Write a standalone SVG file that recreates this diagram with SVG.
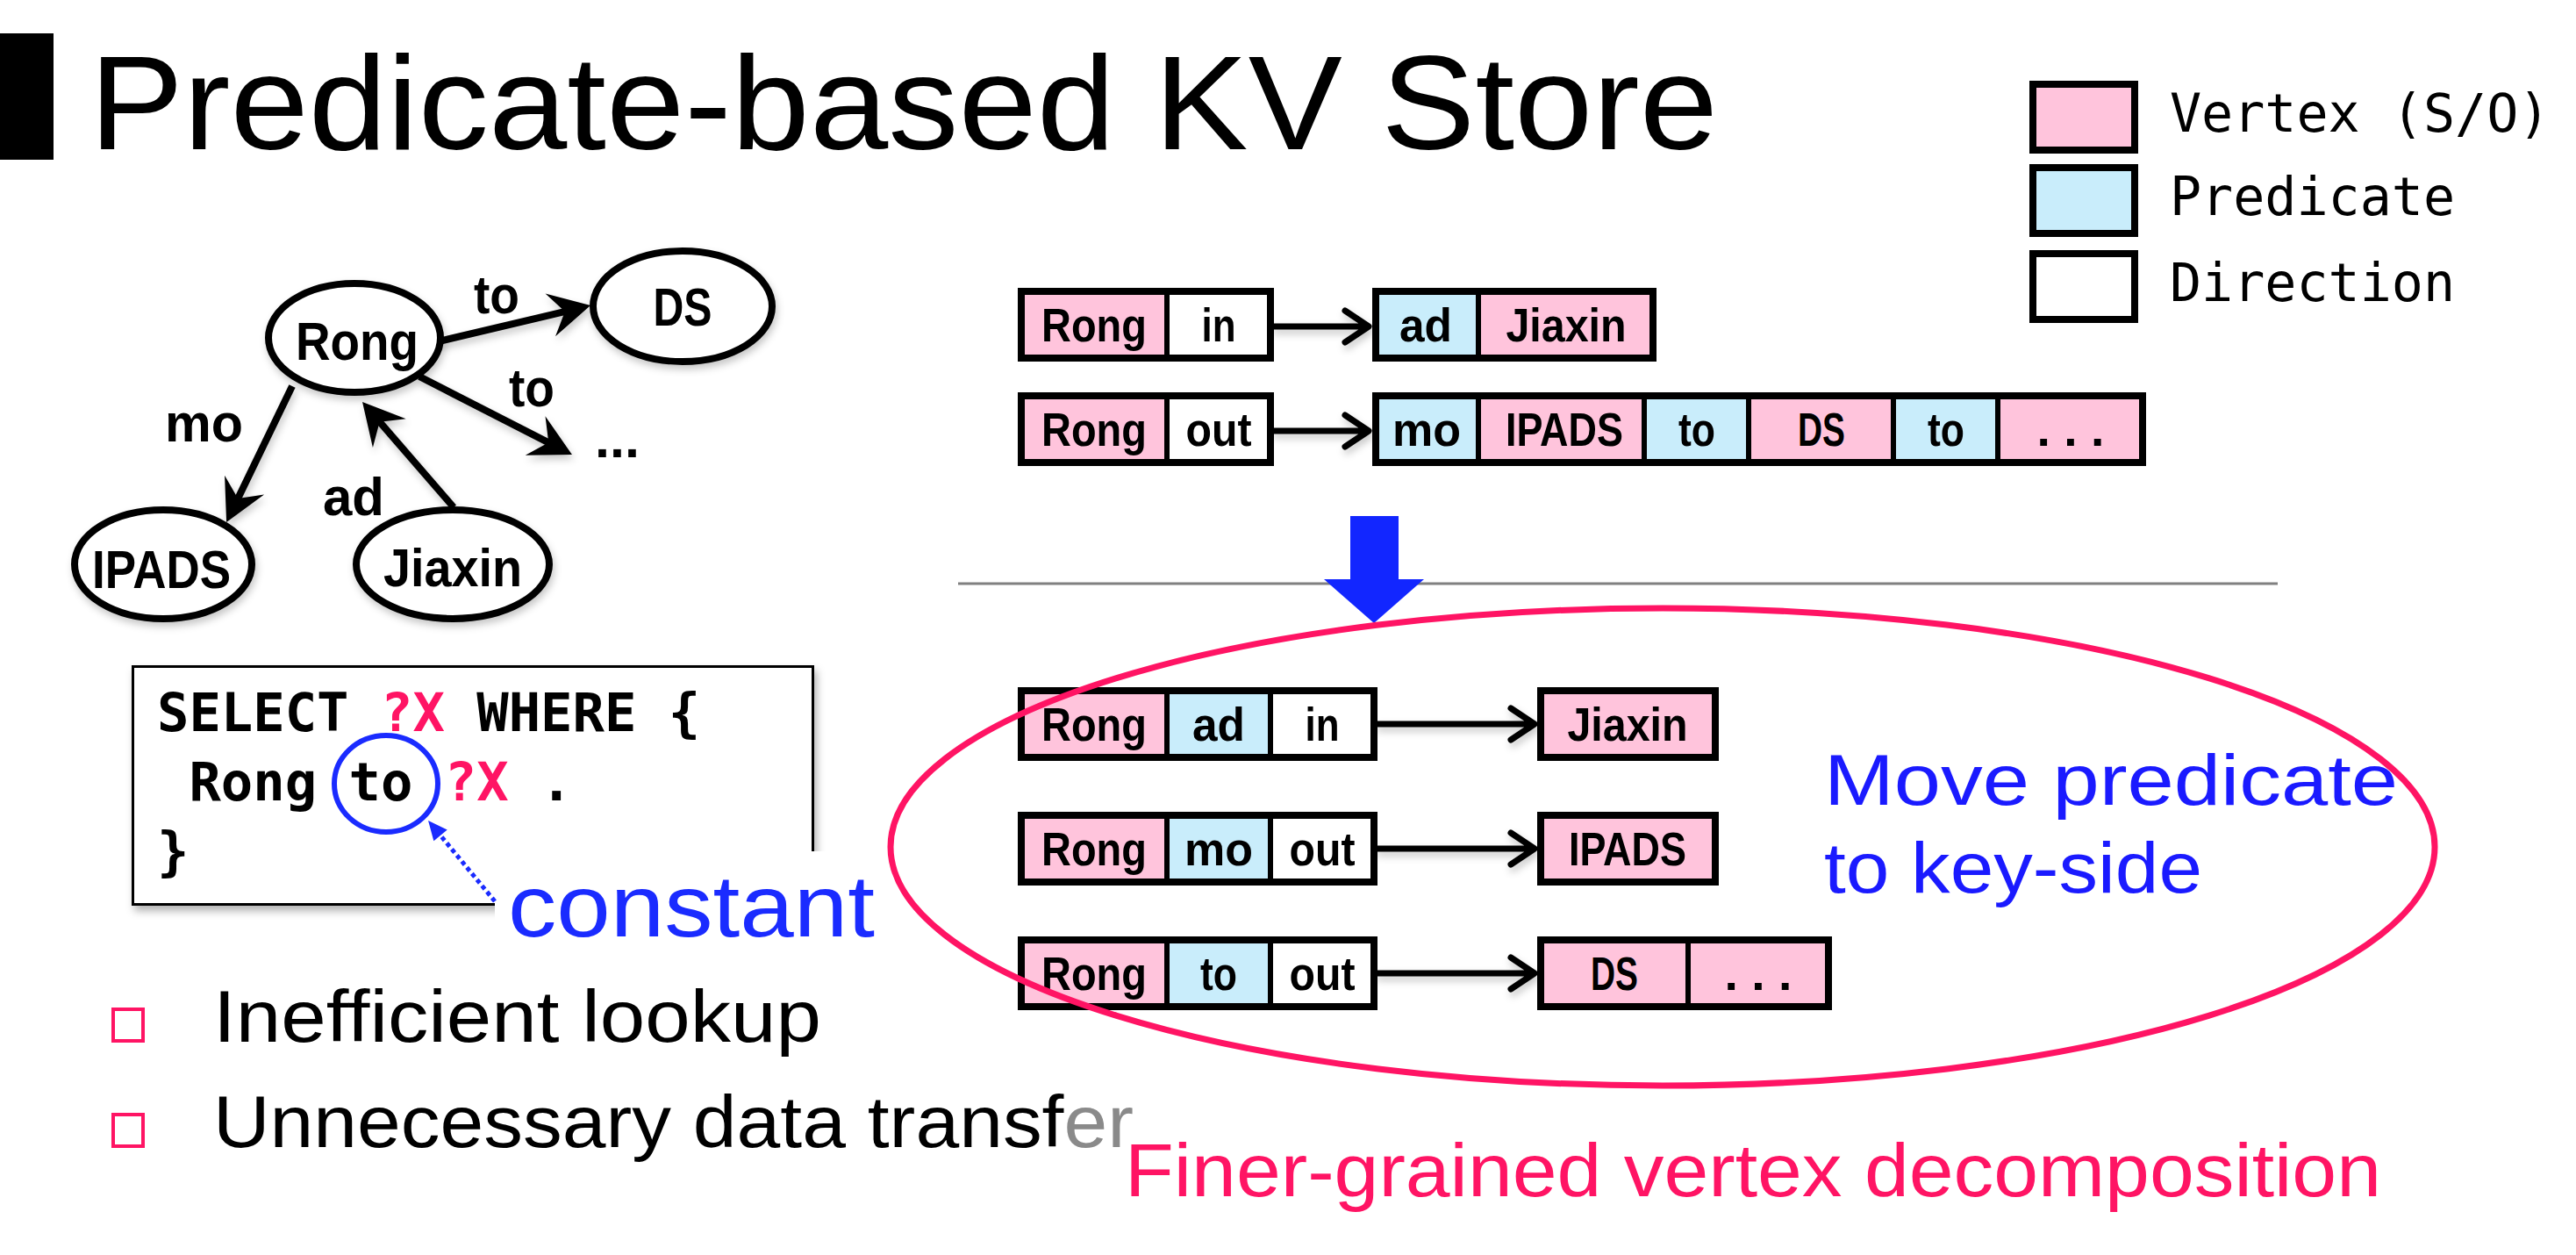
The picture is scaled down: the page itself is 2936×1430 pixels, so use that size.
<svg xmlns="http://www.w3.org/2000/svg" width="2936" height="1430" viewBox="0 0 2936 1430">
<defs>
<style>
.sans{font-family:"Liberation Sans",Arial,sans-serif}
.b{font-family:"Liberation Sans",Arial,sans-serif;font-weight:bold;font-size:53px;text-anchor:middle;fill:#000}
.g{font-family:"Liberation Sans",Arial,sans-serif;font-weight:bold;font-size:61px;fill:#000}
.gm{font-family:"Liberation Sans",Arial,sans-serif;font-weight:bold;font-size:61px;fill:#000;text-anchor:middle}
.mono{font-family:"DejaVu Sans Mono",monospace;font-size:60px;fill:#000}
.code{font-family:"DejaVu Sans Mono",monospace;font-weight:bold;font-size:60.5px;fill:#000}
.v{fill:#FFC4DC}.p{fill:#C9EDFB}.d{fill:#fff}
.box{fill:none;stroke:#000;stroke-width:8}
.div{stroke:#000;stroke-width:6}
.edge{stroke:#000;stroke-width:8;fill:none}
.kva{stroke:#000;stroke-width:7;fill:none;stroke-linecap:round;stroke-linejoin:round}
.node{fill:#fff;stroke:#000;stroke-width:8}
.pk{fill:#FF1464}
</style>
<marker id="ah" markerUnits="userSpaceOnUse" markerWidth="80" markerHeight="80" viewBox="-30 -40 80 80" refX="0" refY="0" orient="auto">
<path d="M25,0 L-22,-25 L-5,0 L-22,25 Z" fill="#000"/>
</marker>
<marker id="bh" markerUnits="userSpaceOnUse" markerWidth="40" markerHeight="40" viewBox="-10 -20 40 40" refX="0" refY="0" orient="auto">
<path d="M18,0 L-4,-10 L-4,10 Z" fill="#1a2bff"/>
</marker>
<filter id="sh" x="-10%" y="-10%" width="130%" height="140%">
<feDropShadow dx="3" dy="6" stdDeviation="5" flood-color="#000" flood-opacity="0.3"/>
</filter>
<filter id="sh2" x="-10%" y="-20%" width="130%" height="160%">
<feDropShadow dx="2" dy="5" stdDeviation="4" flood-color="#000" flood-opacity="0.22"/>
</filter>
</defs>
<rect width="2936" height="1430" fill="#fff"/>

<!-- Title -->
<g id="title">
<rect x="0" y="38" width="61" height="144" fill="#000"/>
<text class="sans" x="102" y="170" font-size="153" textLength="1856" lengthAdjust="spacingAndGlyphs" fill="#000">Predicate-based KV Store</text>
</g>

<!-- Legend -->
<g id="legend">
<rect x="2317" y="96" width="116" height="75" class="v" stroke="#000" stroke-width="8"/>
<rect x="2317" y="191" width="116" height="75" class="p" stroke="#000" stroke-width="8"/>
<rect x="2317" y="289" width="116" height="75" class="d" stroke="#000" stroke-width="8"/>
<text class="mono" x="2473" y="150">Vertex (S/O)</text>
<text class="mono" x="2473" y="245">Predicate</text>
<text class="mono" x="2473" y="343">Direction</text>
</g>

<!-- Graph connectors -->
<g id="graph-edges" filter="url(#sh2)">
<line class="edge" x1="333" y1="440" x2="269" y2="572.5" marker-end="url(#ah)"/>
<line class="edge" x1="517" y1="578" x2="429.4" y2="476.9" marker-end="url(#ah)"/>
<line class="edge" x1="500" y1="389" x2="648.7" y2="353.8" marker-end="url(#ah)"/>
<line class="edge" x1="478" y1="429" x2="629.7" y2="506.6" marker-end="url(#ah)"/>
</g>
<g id="graph-labels">
<text class="g" x="188" y="503" textLength="89" lengthAdjust="spacingAndGlyphs">mo</text>
<text class="g" x="368" y="587" textLength="70" lengthAdjust="spacingAndGlyphs">ad</text>
<text class="g" x="540" y="357" textLength="52" lengthAdjust="spacingAndGlyphs">to</text>
<text class="g" x="580" y="463" textLength="52" lengthAdjust="spacingAndGlyphs">to</text>
<text class="g" x="678" y="521" font-weight="normal">...</text>
</g>

<!-- Graph nodes -->
<g id="node-rong" filter="url(#sh2)">
<ellipse class="node" cx="404" cy="385" rx="98" ry="62"/>
<text class="gm" x="407" y="410" textLength="140" lengthAdjust="spacingAndGlyphs">Rong</text>
</g>
<g id="node-ds" filter="url(#sh2)">
<ellipse class="node" cx="778" cy="349" rx="102" ry="63"/>
<text class="gm" x="778" y="371" textLength="67" lengthAdjust="spacingAndGlyphs">DS</text>
</g>
<g id="node-ipads" filter="url(#sh2)">
<ellipse class="node" cx="186" cy="643" rx="101" ry="62"/>
<text class="gm" x="184" y="670" textLength="158" lengthAdjust="spacingAndGlyphs">IPADS</text>
</g>
<g id="node-jiaxin" filter="url(#sh2)">
<ellipse class="node" cx="516" cy="643" rx="110" ry="62"/>
<text class="gm" x="516" y="668" textLength="158" lengthAdjust="spacingAndGlyphs">Jiaxin</text>
</g>

<!-- SPARQL query -->
<g id="query">
<rect x="151.5" y="759.5" width="775" height="271" fill="#fff" stroke="#000" stroke-width="3" filter="url(#sh)"/>
<text class="code" x="179" y="833" xml:space="preserve">SELECT <tspan class="pk">?X</tspan> WHERE {</text>
<text class="code" x="179" y="912" xml:space="preserve"> Rong to <tspan class="pk">?X</tspan> .</text>
<text class="code" x="179" y="991">}</text>
<rect x="564" y="970" width="442" height="118" fill="#fff"/>
<text class="sans" x="579" y="1067" font-size="100" textLength="418" lengthAdjust="spacingAndGlyphs" fill="#1a2bff">constant</text>
<ellipse cx="440" cy="893" rx="59" ry="55" fill="none" stroke="#1a2bff" stroke-width="6"/>
<line x1="564" y1="1027" x2="499.5" y2="948.9" stroke="#1a2bff" stroke-width="5" stroke-dasharray="5 4" marker-end="url(#bh)"/>
</g>

<!-- Bullets -->
<g id="bullets">
<rect x="129" y="1150" width="34" height="36" fill="none" stroke="#FF1464" stroke-width="4"/>
<rect x="129" y="1270" width="34" height="36" fill="none" stroke="#FF1464" stroke-width="4"/>
<text class="sans" x="243" y="1187" font-size="84" textLength="693" lengthAdjust="spacingAndGlyphs" fill="#000">Inefficient lookup</text>
<text class="sans" x="243" y="1307" font-size="84" textLength="1049" lengthAdjust="spacingAndGlyphs" fill="#000">Unnecessary data transf<tspan fill="#8a8a8a">er</tspan></text>
</g>

<!-- Top KV: Rong in -->
<g id="kv-top-1">
<rect x="1164" y="332" width="166" height="76" class="v"/>
<rect x="1330" y="332" width="118" height="76" class="d"/>
<rect x="1164" y="332" width="284" height="76" class="box"/>
<line class="div" x1="1330" y1="331" x2="1330" y2="409"/>
<text class="b" x="1247" y="389" textLength="120" lengthAdjust="spacingAndGlyphs">Rong</text>
<text class="b" x="1389" y="389" textLength="39" lengthAdjust="spacingAndGlyphs">in</text>
</g>
<g id="kv-top-1-val">
<rect x="1568" y="332" width="117" height="76" class="p"/>
<rect x="1685" y="332" width="199" height="76" class="v"/>
<rect x="1568" y="332" width="316" height="76" class="box"/>
<line class="div" x1="1685" y1="331" x2="1685" y2="409"/>
<text class="b" x="1625" y="389" textLength="60" lengthAdjust="spacingAndGlyphs">ad</text>
<text class="b" x="1785" y="389" textLength="137" lengthAdjust="spacingAndGlyphs">Jiaxin</text>
</g>

<!-- Top KV: Rong out -->
<g id="kv-top-2">
<rect x="1164" y="451" width="166" height="76" class="v"/>
<rect x="1330" y="451" width="118" height="76" class="d"/>
<rect x="1164" y="451" width="284" height="76" class="box"/>
<line class="div" x1="1330" y1="450" x2="1330" y2="528"/>
<text class="b" x="1247" y="508" textLength="120" lengthAdjust="spacingAndGlyphs">Rong</text>
<text class="b" x="1389" y="508" textLength="75" lengthAdjust="spacingAndGlyphs">out</text>
</g>
<g id="kv-top-2-val">
<rect x="1568" y="451" width="117" height="76" class="p"/>
<rect x="1685" y="451" width="189" height="76" class="v"/>
<rect x="1874" y="451" width="119" height="76" class="p"/>
<rect x="1993" y="451" width="165" height="76" class="v"/>
<rect x="2158" y="451" width="119" height="76" class="p"/>
<rect x="2277" y="451" width="165" height="76" class="v"/>
<rect x="1568" y="451" width="874" height="76" class="box"/>
<line class="div" x1="1685" y1="450" x2="1685" y2="528"/>
<line class="div" x1="1874" y1="450" x2="1874" y2="528"/>
<line class="div" x1="1993" y1="450" x2="1993" y2="528"/>
<line class="div" x1="2158" y1="450" x2="2158" y2="528"/>
<line class="div" x1="2277" y1="450" x2="2277" y2="528"/>
<text class="b" x="1626" y="508" textLength="78" lengthAdjust="spacingAndGlyphs">mo</text>
<text class="b" x="1783" y="508" textLength="134" lengthAdjust="spacingAndGlyphs">IPADS</text>
<text class="b" x="1934" y="508" textLength="42" lengthAdjust="spacingAndGlyphs">to</text>
<text class="b" x="2076" y="508" textLength="54" lengthAdjust="spacingAndGlyphs">DS</text>
<text class="b" x="2218" y="508" textLength="42" lengthAdjust="spacingAndGlyphs">to</text>
<text class="b" x="2360" y="508" textLength="77" lengthAdjust="spacingAndGlyphs">. . .</text>
</g>

<!-- Bottom KV rows -->
<g id="kv-bot-1">
<rect x="1164" y="787" width="166" height="76" class="v"/>
<rect x="1330" y="787" width="118" height="76" class="p"/>
<rect x="1448" y="787" width="118" height="76" class="d"/>
<rect x="1164" y="787" width="402" height="76" class="box"/>
<line class="div" x1="1330" y1="786" x2="1330" y2="864"/>
<line class="div" x1="1448" y1="786" x2="1448" y2="864"/>
<text class="b" x="1247" y="844" textLength="120" lengthAdjust="spacingAndGlyphs">Rong</text>
<text class="b" x="1389" y="844" textLength="60" lengthAdjust="spacingAndGlyphs">ad</text>
<text class="b" x="1507" y="844" textLength="39" lengthAdjust="spacingAndGlyphs">in</text>
</g>
<g id="kv-bot-1-val">
<rect x="1756" y="787" width="199" height="76" class="v"/>
<rect x="1756" y="787" width="199" height="76" class="box"/>
<text class="b" x="1855" y="844" textLength="137" lengthAdjust="spacingAndGlyphs">Jiaxin</text>
</g>
<g id="kv-bot-2">
<rect x="1164" y="929" width="166" height="76" class="v"/>
<rect x="1330" y="929" width="118" height="76" class="p"/>
<rect x="1448" y="929" width="118" height="76" class="d"/>
<rect x="1164" y="929" width="402" height="76" class="box"/>
<line class="div" x1="1330" y1="928" x2="1330" y2="1006"/>
<line class="div" x1="1448" y1="928" x2="1448" y2="1006"/>
<text class="b" x="1247" y="986" textLength="120" lengthAdjust="spacingAndGlyphs">Rong</text>
<text class="b" x="1389" y="986" textLength="78" lengthAdjust="spacingAndGlyphs">mo</text>
<text class="b" x="1507" y="986" textLength="75" lengthAdjust="spacingAndGlyphs">out</text>
</g>
<g id="kv-bot-2-val">
<rect x="1756" y="929" width="199" height="76" class="v"/>
<rect x="1756" y="929" width="199" height="76" class="box"/>
<text class="b" x="1855" y="986" textLength="134" lengthAdjust="spacingAndGlyphs">IPADS</text>
</g>
<g id="kv-bot-3">
<rect x="1164" y="1071" width="166" height="76" class="v"/>
<rect x="1330" y="1071" width="118" height="76" class="p"/>
<rect x="1448" y="1071" width="118" height="76" class="d"/>
<rect x="1164" y="1071" width="402" height="76" class="box"/>
<line class="div" x1="1330" y1="1070" x2="1330" y2="1148"/>
<line class="div" x1="1448" y1="1070" x2="1448" y2="1148"/>
<text class="b" x="1247" y="1128" textLength="120" lengthAdjust="spacingAndGlyphs">Rong</text>
<text class="b" x="1389" y="1128" textLength="42" lengthAdjust="spacingAndGlyphs">to</text>
<text class="b" x="1507" y="1128" textLength="75" lengthAdjust="spacingAndGlyphs">out</text>
</g>
<g id="kv-bot-3-val">
<rect x="1756" y="1071" width="168" height="76" class="v"/>
<rect x="1924" y="1071" width="160" height="76" class="v"/>
<rect x="1756" y="1071" width="328" height="76" class="box"/>
<line class="div" x1="1924" y1="1070" x2="1924" y2="1148"/>
<text class="b" x="1840" y="1128" textLength="54" lengthAdjust="spacingAndGlyphs">DS</text>
<text class="b" x="2004" y="1128" textLength="77" lengthAdjust="spacingAndGlyphs">. . .</text>
</g>

<!-- KV connectors -->
<g id="kv-connectors" filter="url(#sh2)">
<path class="kva" d="M1452,372 H1556 M1533,354 L1560,372 L1533,390"/>
<path class="kva" d="M1452,491 H1556 M1533,473 L1560,491 L1533,509"/>
<path class="kva" d="M1570,825 H1745 M1722,807 L1749,825 L1722,843"/>
<path class="kva" d="M1570,967 H1745 M1722,949 L1749,967 L1722,985"/>
<path class="kva" d="M1570,1109 H1745 M1722,1091 L1749,1109 L1722,1127"/>
</g>

<!-- Separator and transition arrow -->
<g id="separator">
<line x1="1092" y1="665" x2="2596" y2="665" stroke="#808080" stroke-width="3"/>
<path d="M1539,588 H1594 V660 H1623 L1566,710 L1509,660 H1539 Z" fill="#1226FF"/>
</g>

<!-- Highlight ellipse and annotations -->
<g id="highlight">
<ellipse cx="1895" cy="965" rx="880" ry="272" fill="none" stroke="#FF1464" stroke-width="7"/>
<text class="sans" x="2079" y="917" font-size="82" textLength="654" lengthAdjust="spacingAndGlyphs" fill="#1a1aff">Move predicate</text>
<text class="sans" x="2079" y="1017" font-size="82" textLength="431" lengthAdjust="spacingAndGlyphs" fill="#1a1aff">to key-side</text>
<text class="sans" x="1282" y="1363" font-size="85" textLength="1432" lengthAdjust="spacingAndGlyphs" fill="#FF1464">Finer-grained vertex decomposition</text>
</g>
</svg>
